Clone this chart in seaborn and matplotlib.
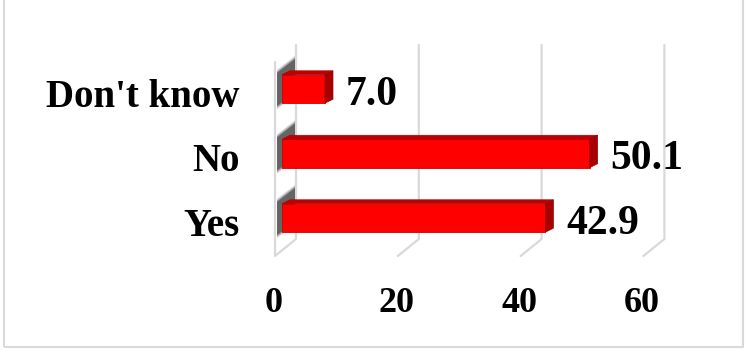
import matplotlib
matplotlib.use("Agg")
import matplotlib.pyplot as plt
import matplotlib.transforms as mtrans
from matplotlib.patches import Polygon, Rectangle
import seaborn as sns
import pandas as pd

categories = ["Don't know", "No", "Yes"]
values = [7.0, 50.1, 42.9]
x_ticks = [0, 20, 40, 60]
x_tick_labels = ["0", "20", "40", "60"]

sns.set_style("white")
plt.rcParams["font.family"] = ["Liberation Serif", "DejaVu Serif"]
plt.rcParams["font.weight"] = "bold"
plt.rcParams["text.color"] = "black"
plt.rcParams["xtick.color"] = "black"
plt.rcParams["ytick.color"] = "black"
plt.rcParams["xtick.labelcolor"] = "black"
plt.rcParams["ytick.labelcolor"] = "black"

W, H = 750, 353
DPI = 100
fig = plt.figure(figsize=(W / DPI, H / DPI), dpi=DPI)
fig.patch.set_facecolor("white")

# bar plane axes (pixel geometry)
left_px, right_px, top_px, bot_px = 282, 650.4, 57, 251
ax = fig.add_axes([left_px / W, 1 - bot_px / H, (right_px - left_px) / W, (bot_px - top_px) / H])
ax.set_facecolor("none")

df = pd.DataFrame({"category": categories, "value": values})
sns.barplot(data=df, x="value", y="category", orient="h", color="#FF0000",
            width=0.44, saturation=1, ax=ax, order=categories, zorder=3)

ax.set_xlim(0, 60)
ax.set_ylim(2.512, -0.496)
for s in ax.spines.values():
    s.set_visible(False)
ax.set_xlabel("")
ax.set_ylabel("")
ax.grid(False)

ax.set_xticks(x_ticks)
ax.set_xticklabels(x_tick_labels)
ax.tick_params(axis="both", length=0, pad=0, colors="black")
ax.tick_params(axis="x", labelsize=26)
ax.tick_params(axis="y", labelsize=28)

def pxoff(dx, dy):
    return mtrans.ScaledTranslation(dx / DPI, -dy / DPI, fig.dpi_scale_trans)

for lab in ax.get_xticklabels():
    lab.set_fontweight("bold")
    lab.set_color("black")
    lab.set_va("baseline")
    lab.set_transform(lab.get_transform() + pxoff(-8.5, 61))
for lab in ax.get_yticklabels():
    lab.set_fontweight("bold")
    lab.set_color("black")
    lab.set_va("baseline")
    lab.set_ha("right")
    lab.set_transform(lab.get_transform() + pxoff(-42, 18))

fig.canvas.draw()
ident = mtrans.IdentityTransform()

def disp(x, y, dx=0, dy=0):
    X, Y = ax.transData.transform((x, y))
    return (X + dx, Y - dy)

grid_c = "#D9D9D9"
ylo, yhi = ax.get_ylim()  # ylo = bottom (2.512), yhi = top (-0.496)
back = (14, -12)
front = (-7, 5)
for t in x_ticks:
    pts = [disp(t, yhi, *back), disp(t, ylo, *back), disp(t, ylo, *front)]
    if t == x_ticks[0]:
        pts.append(disp(t, yhi, *front))
    xs = [p[0] for p in pts]
    ys = [p[1] for p in pts]
    line = plt.Line2D(xs, ys, color=grid_c, lw=1.6, transform=ident, zorder=1,
                      clip_on=False)
    ax.add_artist(line)

# shadows on the back wall and 3D faces for bars
dep = (8, -4)
for bar in list(ax.patches):
    x0 = bar.get_x()
    w = bar.get_width()
    y0 = bar.get_y()
    h = bar.get_height()
    ytop, ybot = y0, y0 + h  # inverted axis: y0 is top
    x1 = x0 + w
    bar.set_edgecolor("#D00000")
    bar.set_linewidth(0.6)
    # shadow (layered for blur)
    for a, grow in [(0.18, 3), (0.3, 1.5), (0.55, 0)]:
        sh = [disp(x0, ybot, -5, 3 + grow),
              disp(x0, ytop, -5, -2 - grow),
              disp(x0, ytop, 13, -16 - grow),
              disp(x0, ybot, 13, -10 + grow)]
        ax.add_artist(Polygon(sh, closed=True, transform=ident, facecolor="#303030",
                              edgecolor="none", alpha=a, zorder=2, clip_on=False))
    topf = [disp(x0, ytop), disp(x1, ytop), disp(x1, ytop, *dep), disp(x0, ytop, *dep)]
    side = [disp(x1, ytop), disp(x1, ytop, *dep), disp(x1, ybot, *dep), disp(x1, ybot)]
    ax.add_artist(Polygon(topf, closed=True, transform=ident, facecolor="#C00000",
                          edgecolor="#B00000", lw=0.5, zorder=4, clip_on=False))
    ax.add_artist(Polygon(side, closed=True, transform=ident, facecolor="#A80000",
                          edgecolor="#990000", lw=0.5, zorder=4, clip_on=False))

# value labels
for i, v in enumerate(values):
    ax.text(v, i, f"{v:.1f}", ha="left", va="baseline", fontsize=30,
            fontweight="bold", color="black",
            transform=ax.transData + pxoff(21, 16), zorder=5, clip_on=False)

# outer frame
fig.add_artist(Rectangle((4 / W, 6 / H), 739 / W, 1.0, transform=fig.transFigure,
                         facecolor="none", edgecolor="#D9D9D9", lw=1.5, zorder=0))

fig.savefig("out.png", dpi=DPI, facecolor="white")
